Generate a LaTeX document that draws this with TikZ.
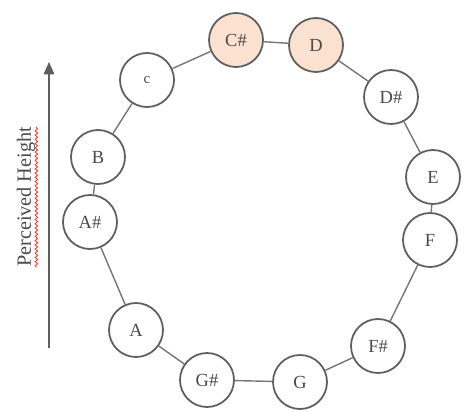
\documentclass[tikz,border=0pt]{standalone}
\usepackage{fontspec}
\setmainfont{Liberation Serif}
\usetikzlibrary{decorations.pathmorphing, arrows.meta}

\definecolor{ringgray}{HTML}{5E5E5E}
\definecolor{textgray}{HTML}{4A4A4A}
\definecolor{peach}{HTML}{FBE1D0}

\begin{document}
\begin{tikzpicture}[x=0.02cm, y=-0.02cm,
    note/.style={circle, draw=ringgray, line width=1pt, fill=white,
                 minimum size=1.08cm, inner sep=0pt, text=textgray,
                 font=\fontsize{10.5}{12}\selectfont},
    hit/.style={note, fill=peach},
    link/.style={draw=ringgray!85, line width=0.8pt}]
\useasboundingbox (0,0) rectangle (473,412);

%%   kw   (name)   (x, y)   {text}
    \node[note] (c)  at (147, 80)  {\fontsize{8.5}{10}\selectfont c};
    \node[hit]  (cs) at (236, 40)  {C\#};
    \node[hit]  (d)  at (316, 45)  {D};
    \node[note] (ds) at (391, 97)  {D\#};
    \node[note] (e)  at (433, 177) {E};
    \node[note] (f)  at (430, 240) {F};
    \node[note] (fs) at (378, 346) {F\#};
    \node[note] (g)  at (300, 382) {G};
    \node[note] (gs) at (207, 380) {G\#};
    \node[note] (a)  at (136, 330) {A};
    \node[note] (as) at (90, 222)  {A\#};
    \node[note] (b)  at (98, 157)  {B};

    \draw[link] (c) -- (cs);
    \draw[link] (cs) -- (d);
    \draw[link] (d) -- (ds);
    \draw[link] (ds) -- (e);
    \draw[link] (e) -- (f);
    \draw[link] (f) -- (fs);
    \draw[link] (fs) -- (g);
    \draw[link] (g) -- (gs);
    \draw[link] (gs) -- (a);
    \draw[link] (a) -- (as);
    \draw[link] (as) -- (b);
    \draw[link] (b) -- (c);

%%   height axis
    \coordinate (low)  at (49, 348);
    \coordinate (high) at (49, 62);
    \draw[ringgray, line width=0.8pt, -{Triangle[length=7pt, width=6pt]}] (low) -- (high);
    \node[rotate=90, text=textgray, inner sep=0pt, font=\fontsize{11.5}{13}\selectfont]
        (label) at (26, 197) {Perceived Height};
    \draw[red!80, line width=0.5pt, decorate,
          decoration={snake, amplitude=0.7pt, segment length=2.4pt}]
        ([xshift=0.5pt]label.south west) -- ([xshift=0.5pt]label.south east);
\end{tikzpicture}
\end{document}
